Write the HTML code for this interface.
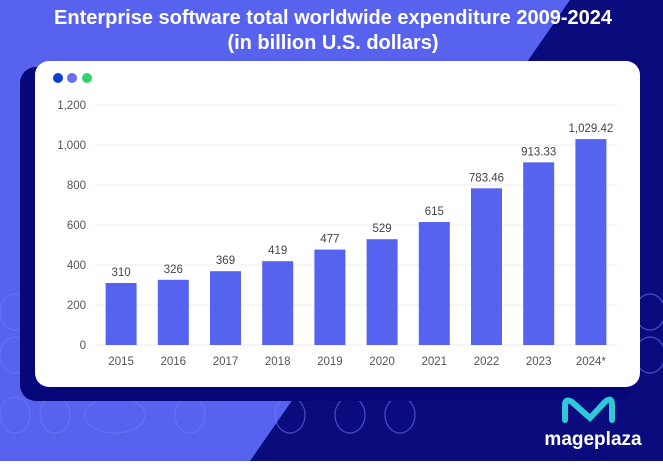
<!DOCTYPE html>
<html><head><meta charset="utf-8"><style>
body{margin:0;width:663px;height:461px;overflow:hidden;font-family:"Liberation Sans",sans-serif}
</style></head><body>
<svg width="663" height="461" viewBox="0 0 663 461">
<rect x="0" y="0" width="663" height="461" fill="#0a0c7e"/>
<polygon points="0,0 570,0 250,461 0,461" fill="#5763ee"/>
<g fill="none" stroke="#6f7bf2" stroke-opacity="0.6" stroke-width="1.2">
<ellipse cx="15" cy="312" rx="15" ry="18"/><ellipse cx="15" cy="355" rx="15" ry="18"/>
<ellipse cx="15" cy="415" rx="15" ry="18"/><ellipse cx="55" cy="415" rx="15" ry="18"/>
<ellipse cx="115" cy="415" rx="30" ry="18"/><ellipse cx="190" cy="415" rx="15" ry="18"/>
<ellipse cx="290" cy="415" rx="15" ry="18"/><ellipse cx="350" cy="415" rx="15" ry="18"/><ellipse cx="400" cy="415" rx="15" ry="18"/>
<ellipse cx="650" cy="312" rx="15" ry="18"/><ellipse cx="650" cy="355" rx="15" ry="18"/>
</g>
<rect x="20" y="67" width="612" height="334" rx="16" fill="#06087a"/>
<rect x="35" y="61" width="605" height="326" rx="14" fill="#ffffff"/>
<circle cx="58" cy="78" r="5" fill="#0c3fd1"/>
<circle cx="72" cy="78" r="5" fill="#6a6ef0"/>
<circle cx="87" cy="78" r="5" fill="#2fd36c"/>
<text x="333" y="24" text-anchor="middle" font-size="20" font-weight="bold" fill="#fff">Enterprise software total worldwide expenditure 2009-2024</text>
<text x="333" y="49" text-anchor="middle" font-size="20" font-weight="bold" fill="#fff">(in billion U.S. dollars)</text>
<g id="chart"></g>
<text x="593" y="445" text-anchor="middle" font-size="19" font-weight="bold" fill="#fff">mageplaza</text>
<path d="M565 420 L565 405 Q565 398 572 402 L590 418 L605 402 Q612 396 612 405 L612 420" fill="none" stroke="#2ec9d8" stroke-width="6" stroke-linecap="round"/>
</svg>
<script>
const categories=["2015","2016","2017","2018","2019","2020","2021","2022","2023","2024*"];
const values=[310,326,369,419,477,529,615,783.46,913.33,1029.42];
const labels=["310","326","369","419","477","529","615","783.46","913.33","1,029.42"];
const ticks=[0,200,400,600,800,1000,1200];
const tickLabels=["0","200","400","600","800","1,000","1,200"];
const NS="http://www.w3.org/2000/svg";
const g=document.getElementById('chart');
const y0=345,yTop=105,xL=95,xR=617;
const y=v=>y0-(v/1200)*(y0-yTop);
const step=(xR-xL)/categories.length;
const xc=i=>xL+step*(i+0.5);
function mk(t,a){const e=document.createElementNS(NS,t);for(const k in a)e.setAttribute(k,a[k]);g.appendChild(e);return e;}
ticks.forEach((t,i)=>{
 const l=mk('line',{x1:xL,x2:xR,y1:y(t),y2:y(t),stroke:'#ececf0','stroke-width':1});
 
 
 const tx=mk('text',{x:86,y:y(t)+4,'text-anchor':'end','font-size':11.5,fill:'#555'});
 tx.textContent=tickLabels[i];
 
 
});
categories.forEach((c,i)=>{
 const bw=31;
 const r=mk('rect',{x:xc(i)-bw/2,y:y(values[i]),width:bw,height:y0-y(values[i]),fill:'#5563ee'});
 
 
 const vl=mk('text',{x:xc(i),y:y(values[i])-7,'text-anchor':'middle','font-size':11.5,fill:'#444'});
 vl.textContent=labels[i];
 
 
 const xl=mk('text',{x:xc(i),y:365,'text-anchor':'middle','font-size':11.5,fill:'#555'});
 xl.textContent=c;
 
 
});
</script>
</body></html>
